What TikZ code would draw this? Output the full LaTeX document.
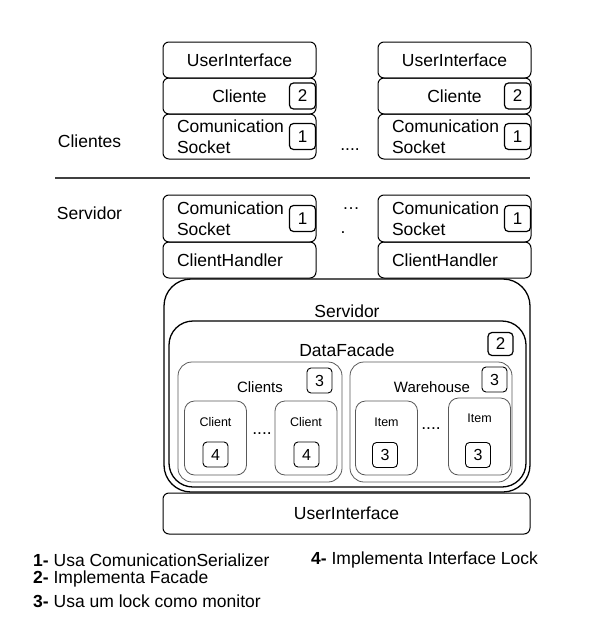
\documentclass[tikz,border=0pt]{standalone}
\usepackage{fontspec}
\setmainfont{Liberation Sans}
\usetikzlibrary{positioning}

\begin{document}
\begin{tikzpicture}[x=1pt,y=-1pt,
  box/.style={draw,line width=1pt,rounded corners=6pt,inner sep=0pt,
    minimum width=153pt,minimum height=36pt,font=\fontsize{17.5}{21}\selectfont},
  leftbox/.style={box,align=left,text width=125pt,inner xsep=14pt},
  tag/.style={draw,line width=1.2pt,rounded corners=4pt,minimum size=26pt,
    inner sep=0pt,font=\fontsize{17}{20}\selectfont},
  smalltag/.style={tag,line width=0.9pt,minimum size=25pt,font=\fontsize{16}{19}\selectfont},
  bigbox/.style={draw,line width=1.3pt,inner sep=0pt},
  group/.style={draw,black!65,line width=0.8pt,rounded corners=14pt,inner sep=0pt},
  item/.style={draw,black!65,line width=0.8pt,rounded corners=10pt,inner sep=0pt,
    minimum width=62pt,minimum height=74pt},
  lbl/.style={font=\fontsize{17.5}{21}\selectfont},
  small/.style={font=\fontsize{12.5}{15}\selectfont},
  key/.style={anchor=west,inner sep=0pt,font=\fontsize{17.5}{21}\selectfont}]
\useasboundingbox (0,0) rectangle (608,640);

% clientes
\node[lbl] (clientes) at (89.5,141) {Clientes};
\foreach \c/\x in {a/239.5,b/454.5}{
  \node[box] (cui\c) at (\x,60) {UserInterface};
  \node[box] (cli\c) at (\x,96) {Cliente};
  \node[leftbox,minimum height=45pt] (csock\c) at (\x,136.5) {Comunication\\Socket};
  \node[tag] (ctwo\c) at ([xshift=-14pt]cli\c.east) {2};
  \node[tag] (cone\c) at ([xshift=-14pt]csock\c.east) {1};
}
\node[lbl] (cdots) at (350,150) {....};

% linha
\coordinate (sepl) at (55,178);
\coordinate (sepr) at (530,178);
\draw[line width=1.5pt,black!75] (sepl) -- (sepr);

% servidor
\node[lbl] (servidor) at (89.5,213) {Servidor};
\foreach \c/\x in {a/239.5,b/454.5}{
  \node[leftbox,minimum height=47pt] (ssock\c) at (\x,218.5) {Comunication\\Socket};
  \node[leftbox] (shand\c) at (\x,260) {ClientHandler};
  \node[tag] (sone\c) at ([xshift=-14pt]ssock\c.east) {1};
}
\node[lbl] (sdots) at (351,209) {\dots};
\node[lbl] (sdot) at (343,233) {.};

\node[bigbox,rounded corners=27pt,minimum width=366pt,minimum height=213pt] (srv) at (347,385.5) {};
\node[lbl] (srvlbl) at (347,311) {Servidor};
\node[bigbox,rounded corners=24pt,minimum width=357pt,minimum height=166pt] (facade) at (347.5,404) {};
\node[lbl] (facadelbl) at (347,350) {DataFacade};
\node[tag,minimum width=25pt,minimum height=23pt] (ftwo) at (500.5,344) {2};

% clients
\node[group,minimum width=164pt,minimum height=120pt] (clients) at (260,422) {};
\node[font=\fontsize{15}{18}\selectfont] (clientslbl) at (260,387) {Clients};
\node[smalltag] (clthree) at (319.5,380.5) {3};
\node[item] (clienta) at (215.5,438) {};
\node[item] (clientb) at (306,438) {};
\node[small] (clientalbl) at (215.5,422) {Client};
\node[small] (clientblbl) at (306,422) {Client};
\node[smalltag] (cfoura) at (215.5,454.5) {4};
\node[smalltag] (cfourb) at (306.5,454.5) {4};
\node[lbl] (cldots) at (262,434) {....};

% warehouse
\node[group,minimum width=162pt,minimum height=120pt] (warehouse) at (431,422) {};
\node[font=\fontsize{15}{18}\selectfont] (warehouselbl) at (432,387) {Warehouse};
\node[smalltag] (whthree) at (494.5,379.5) {3};
\node[item] (itema) at (386.5,438) {};
\node[item,minimum height=77pt] (itemb) at (479.5,436.5) {};
\node[small] (itemalbl) at (386.5,422) {Item};
\node[small] (itemblbl) at (479.5,418) {Item};
\node[smalltag] (ithreea) at (385,455) {3};
\node[smalltag] (ithreeb) at (478,455) {3};
\node[lbl] (itdots) at (431,429) {....};

\node[box,minimum width=367pt,minimum height=41pt] (sui) at (346.5,513.5) {UserInterface};

% legenda
\node[key] (k1) at (33,560) {\textbf{1-} Usa ComunicationSerializer};
\node[key] (k2) at (33,579) {\textbf{2-} Implementa Facade};
\node[key] (k3) at (33,601) {\textbf{3-} Usa um lock como monitor};
\node[key] (k4) at (311,560) {\textbf{4-} Implementa Interface Lock};
\end{tikzpicture}
\end{document}
